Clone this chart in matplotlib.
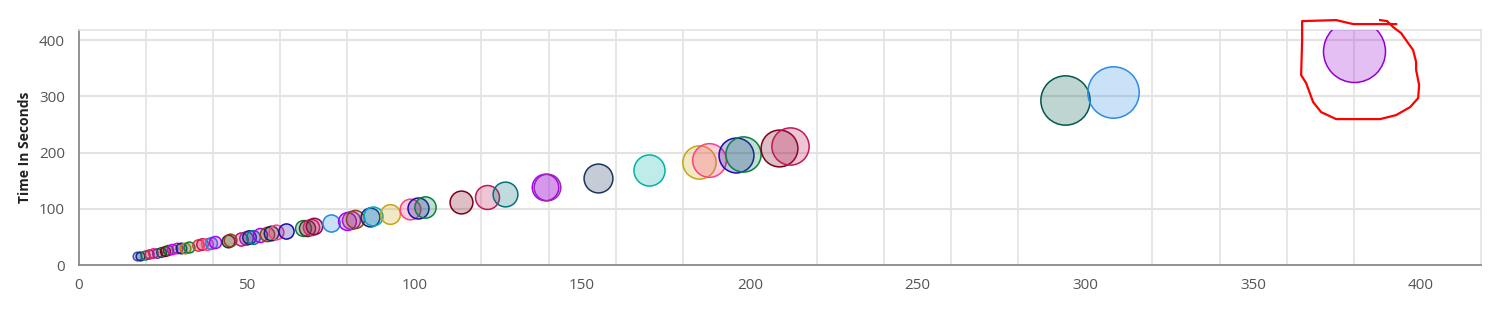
import numpy as np
import matplotlib
matplotlib.use("Agg")
from matplotlib import pyplot as plt
from matplotlib.lines import Line2D
from matplotlib.ticker import MultipleLocator

plt.rcParams['font.family'] = ['Open Sans', 'DejaVu Sans']

# bubble data: x value, time in seconds (y), colour of each bubble
x_vals = [17.3, 18.3, 19.7, 20.9, 22.2, 23.4, 24.5, 25.7, 26.7, 27.9,
          29.2, 30.4, 31.6, 32.8, 35.6, 36.8, 38.1, 39.3, 40.6, 44.4,
          45.0, 48.3, 49.7, 50.8, 52.0, 54.0, 56.0, 57.3, 58.7, 61.8,
          66.7, 67.9, 69.1, 70.2, 75.3, 79.8, 81.0, 82.3, 86.8, 87.8,
          92.7, 98.7, 101.2, 103.2, 113.8, 121.7, 127.0, 138.9, 139.6, 154.8,
          169.9, 184.9, 187.9, 196.0, 198.0, 208.7, 211.9, 294.0, 308.1, 380.1]
time_sec = [15.5, 16.8, 18.0, 19.4, 21.0, 22.3, 24.0, 25.2, 26.5, 28.2,
            30.0, 30.3, 31.2, 32.4, 35.8, 37.0, 37.8, 39.0, 40.6, 43.8,
            44.5, 47.0, 48.0, 49.5, 50.6, 53.6, 55.4, 56.8, 58.4, 60.8,
            65.5, 66.6, 67.5, 69.6, 75.5, 79.0, 80.3, 81.5, 86.1, 87.0,
            91.0, 99.3, 101.0, 104.0, 112.8, 121.7, 126.0, 138.4, 139.4, 154.3,
            169.1, 183.8, 186.9, 195.7, 197.5, 207.6, 211.7, 293.4, 307.6, 380.5]
colors = ["#3f51b5", "#1a237e", "#0b8043", "#c2185b", "#e91e63", "#8e24aa", "#00695c", "#7f0000", "#1b5e20", "#d500f9",
          "#9c27b0", "#1a237e", "#b8860b", "#0b8043", "#e53935", "#c2185b", "#ff4081", "#1e88e5", "#aa00ff", "#263238",
          "#8b4513", "#c2185b", "#9c27b0", "#1a237e", "#00838f", "#aa00ff", "#8b4513", "#0d2b52", "#ff4081", "#1a0dab",
          "#0b8043", "#4e342e", "#e91e63", "#880e4f", "#1e88e5", "#aa00ff", "#9c27b0", "#8b4513", "#1a237e", "#00acc1",
          "#c8a415", "#ff4081", "#1a0dab", "#0b8043", "#7b0019", "#c2185b", "#00737a", "#aa00ff", "#9c27b0", "#1c355e",
          "#00b3a6", "#c8a415", "#ff4081", "#1a0dab", "#0b8043", "#7b0019", "#c2185b", "#00594f", "#2b8ce6", "#9400d3"]

fig = plt.figure(figsize=(15.06, 3.19), dpi=100)
ax = fig.add_axes([0.0523, 0.1686, 0.9313, 0.7374])

# bubble radius scales linearly with the size value (here the x value)
x = np.array(x_vals)
r_px = 4.3 + (x - x.min()) / (x.max() - x.min()) * (31 - 4.3)
s = (2 * r_px * 0.72) ** 2

for xi, yi, si, c in zip(x_vals, time_sec, s, colors):
    ax.scatter(xi, yi, s=si, facecolor=matplotlib.colors.to_rgba(c, 0.25),
               edgecolor=c, linewidth=1.1, zorder=3)

ax.set_xlim(0, 418)
ax.set_ylim(0, 418)
ax.xaxis.set_major_locator(MultipleLocator(50))
ax.xaxis.set_minor_locator(MultipleLocator(20))
ax.yaxis.set_major_locator(MultipleLocator(100))
ax.grid(False)
ax.grid(True, which="minor", axis="x", color="#e3e3e3", linewidth=1.2, zorder=0)
ax.grid(True, which="major", axis="y", color="#e3e3e3", linewidth=1.5, zorder=0)
ax.tick_params(which="both", length=0)
ax.tick_params(axis="x", pad=9, labelsize=11, labelcolor="#555555")
ax.tick_params(axis="y", pad=10, labelsize=11, labelcolor="#555555")

for side in ["top", "right"]:
    ax.spines[side].set_color("#e3e3e3")
    ax.spines[side].set_linewidth(1.2)
for side in ["left", "bottom"]:
    ax.spines[side].set_color("#8a8a8a")
    ax.spines[side].set_linewidth(1.3)

ax.set_ylabel("Time In Seconds", fontsize=10, fontweight="bold", color="#222222", labelpad=5)

# hand-drawn red loop round the largest bubble (figure pixel offsets from its centre)
loop_dx = [26, 33, 39, 47, 54, 59, 62, 62, 65, 64, 56, 42, 26, -18, -33, -41, -48, -53, -52, -52, -18, -1, 42]
loop_dy = [31, 30, 24, 18, 8, 1, -11, -19, -34, -47, -56, -64, -68, -68, -61, -51, -32, -24, 11, 30, 31, 27, 27]
cx, cy = ax.transData.transform((x_vals[-1], time_sec[-1]))
fig.add_artist(Line2D(cx + np.array(loop_dx), cy + np.array(loop_dy), transform=None,
                      color="red", linewidth=1.6, solid_joinstyle="round"))

fig.savefig("out.png", dpi=100)
